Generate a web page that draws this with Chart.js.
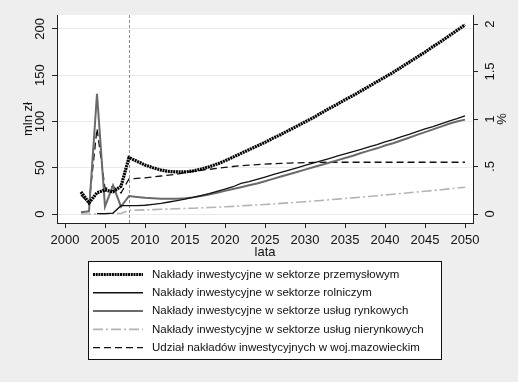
<!DOCTYPE html>
<html>
<head>
<meta charset="utf-8">
<script src="https://cdn.jsdelivr.net/npm/chart.js@4"></script>
<style>
  html, body { margin: 0; padding: 0; background: #eeeeee; }
  #wrap { width: 518px; height: 382px; position: relative; }
</style>
</head>
<body>
<div id="wrap"><canvas id="c" width="518" height="382"></canvas></div>
<script>
// ---- data ----
const years = [2002,2003,2004,2005,2006,2007,2008,2009,2010,2011,2012,2013,2014,2015,2016,2017,2018,2019,2020,2021,2022,2023,2024,2025,2026,2027,2028,2029,2030,2031,2032,2033,2034,2035,2036,2037,2038,2039,2040,2041,2042,2043,2044,2045,2046,2047,2048,2049,2050];

const przemyslowy = [24,12,23,26,24,30,61,57,53,50,47.5,46,45.5,45.5,46.5,48.5,51,54,57.5,61.5,65.5,69.5,73.5,77.5,82,86,90.5,95,99.5,104,109,114,118.5,123.5,128,133,138,143,148,153,158.5,164,169.5,175,181,186.5,192.5,198.5,204.5];

const rolniczy = [null,null,0.5,0.5,1,9,9,9,9.5,10.5,11.5,13,14.5,16,18,20,22,24.5,27,29.5,33,35,37.5,40,42.5,45,47.5,50,52.5,55,57.5,60,62.5,65,67.5,70,72.5,75,78,80.5,83.5,86,89,92,94.5,97.5,100.5,103,106];

const rynkowe = [2,3,130,8,31,8,19.5,18.5,17.5,17,16.5,16.5,16.5,17,18,19.5,21,23,25,27,29,31,33,35.5,38,40.5,43,45.5,48,50.5,53,55.5,58,60.5,63,66,68.5,71,74,76.5,79.5,82.5,85.5,88.5,91.5,94.5,97.5,100,102];

const nierynkowe = [0,0,0,0,0.5,0.5,4,4.2,4.5,4.8,5.1,5.4,5.7,6,6.3,6.6,7,7.4,7.8,8.3,8.8,9.3,9.8,10.3,10.9,11.5,12.1,12.7,13.3,14,14.7,15.4,16.1,16.8,17.5,18.2,19,19.8,20.6,21.4,22.2,23,23.8,24.6,25.4,26.3,27.2,28.1,29];

const udzial = [0.2,0.11,0.9,0.27,0.29,0.22,0.37,0.375,0.38,0.39,0.4,0.41,0.42,0.435,0.45,0.46,0.47,0.48,0.49,0.5,0.508,0.515,0.52,0.525,0.53,0.533,0.536,0.539,0.541,0.543,0.544,0.545,0.545,0.545,0.545,0.545,0.545,0.545,0.545,0.545,0.545,0.545,0.545,0.545,0.545,0.545,0.545,0.545,0.545];

const xTicks = [2000,2005,2010,2015,2020,2025,2030,2035,2040,2045,2050];
const yLeftTicks = [0,50,100,150,200];
const yRightTicks = [0,0.5,1,1.5,2];
const yRightLabels = ['0','.5','1','1.5','2'];
const markerYear = 2008;

const seriesNames = [
  'Nakłady inwestycyjne w sektorze przemysłowym',
  'Nakłady inwestycyjne w sektorze rolniczym',
  'Nakłady inwestycyjne w sektorze usług rynkowych',
  'Nakłady inwestycyjne w sektorze usług nierynkowych',
  'Udział nakładów inwestycyjnych w woj.mazowieckim'
];

const FONT = 'Liberation Sans, Arial, sans-serif';

function pts(arr) { return years.map((y, i) => ({x: y, y: arr[i]})); }

const datasets = [
  {label: seriesNames[0], data: pts(przemyslowy), yAxisID: 'y', borderColor: '#000000', borderWidth: 3.2, borderDash: [2, 0.7], lgW: 3, lgDash: [2, 0.7]},
  {label: seriesNames[1], data: pts(rolniczy), yAxisID: 'y', borderColor: '#111111', borderWidth: 1.3, borderDash: [], lgW: 1.6, lgDash: []},
  {label: seriesNames[2], data: pts(rynkowe), yAxisID: 'y', borderColor: '#6a6a6a', borderWidth: 2, borderDash: [], lgW: 2, lgDash: []},
  {label: seriesNames[3], data: pts(nierynkowe), yAxisID: 'y', borderColor: '#b4b4b4', borderWidth: 1.6, borderDash: [10, 3, 2, 3], lgW: 1.6, lgDash: [10, 3, 2, 3]},
  {label: seriesNames[4], data: pts(udzial), yAxisID: 'y2', borderColor: '#111111', borderWidth: 1.3, borderDash: [7, 4], lgW: 1.3, lgDash: [7, 4]}
].map(d => Object.assign(d, {pointRadius: 0, fill: false, tension: 0, spanGaps: false}));

const bgPlugin = {
  id: 'bg',
  beforeDraw(chart) {
    const {ctx, chartArea: a} = chart;
    ctx.save();
    ctx.fillStyle = '#eeeeee';
    ctx.fillRect(0, 0, chart.width, chart.height);
    ctx.fillStyle = '#ffffff';
    ctx.fillRect(a.left, a.top, a.right - a.left, a.bottom - a.top);
    ctx.restore();
  },
  beforeDatasetsDraw(chart) {
    const {ctx, chartArea: a, scales} = chart;
    const x = Math.round(scales.x.getPixelForValue(markerYear)) + 0.5;
    ctx.save();
    ctx.strokeStyle = '#8c8c8c';
    ctx.lineWidth = 1;
    ctx.setLineDash([3, 2]);
    ctx.beginPath();
    ctx.moveTo(x, a.top);
    ctx.lineTo(x, a.bottom);
    ctx.stroke();
    ctx.restore();
  },
  afterDraw(chart) {
    const {ctx, chartArea: a} = chart;
    ctx.save();
    // right axis title
    ctx.fillStyle = '#111';
    ctx.font = '13px ' + FONT;
    ctx.translate(502, (a.top + a.bottom) / 2);
    ctx.rotate(-Math.PI / 2);
    ctx.textAlign = 'center';
    ctx.textBaseline = 'middle';
    ctx.fillText('%', 0, 0);
    ctx.restore();

    // legend
    const bx = 88.5, by = 261.5, bw = 353, bh = 98;
    ctx.save();
    ctx.fillStyle = '#ffffff';
    ctx.fillRect(bx, by, bw, bh);
    ctx.strokeStyle = '#111';
    ctx.lineWidth = 1;
    ctx.strokeRect(bx, by, bw, bh);
    ctx.font = '11.5px ' + FONT;
    ctx.textBaseline = 'middle';
    ctx.textAlign = 'left';
    chart.data.datasets.forEach((d, i) => {
      const y = 274.5 + i * 18.3;
      ctx.strokeStyle = d.borderColor;
      ctx.lineWidth = d.lgW;
      ctx.setLineDash(d.lgDash);
      ctx.beginPath();
      ctx.moveTo(93, y);
      ctx.lineTo(143, y);
      ctx.stroke();
      ctx.setLineDash([]);
      ctx.fillStyle = '#111';
      ctx.fillText(d.label, 152, y);
    });
    ctx.restore();
  }
};

new Chart(document.getElementById('c'), {
  type: 'line',
  data: {datasets},
  plugins: [bgPlugin],
  options: {
    responsive: false,
    animation: false,
    events: [],
    layout: {padding: {top: 15, bottom: 122, left: 0, right: 0}},
    plugins: {legend: {display: false}, tooltip: {enabled: false}},
    scales: {
      x: {
        type: 'linear', min: 1999, max: 2051,
        afterBuildTicks(s) { s.ticks = xTicks.map(v => ({value: v})); },
        afterFit(s) { s.height = 37; },
        ticks: {color: '#111', font: {family: FONT, size: 13}, padding: 5, maxRotation: 0, minRotation: 0, callback: v => String(v)},
        grid: {drawOnChartArea: false, tickLength: 5, tickColor: '#222', tickWidth: 1},
        border: {display: true, color: '#222', width: 1},
        title: {display: true, text: 'lata', color: '#111', font: {family: FONT, size: 13}, padding: {top: 0, bottom: 0}}
      },
      y: {
        type: 'linear', position: 'left', min: -9.7, max: 215.1,
        afterBuildTicks(s) { s.ticks = yLeftTicks.map(v => ({value: v})); },
        afterFit(s) { s.width = 57; },
        ticks: {color: '#111', font: {family: FONT, size: 13}, padding: 1, minRotation: 90, maxRotation: 90, crossAlign: 'center', callback: v => String(v)},
        grid: {color: '#eaeaea', lineWidth: 1, tickLength: 5, tickColor: '#222', tickWidth: 1},
        border: {display: true, color: '#222', width: 1},
        title: {display: true, text: 'mln zł', color: '#111', font: {family: FONT, size: 13}, padding: {top: 21, bottom: 0}}
      },
      y2: {
        type: 'linear', position: 'right', min: -0.0947, max: 2.095,
        afterBuildTicks(s) { s.ticks = yRightTicks.map(v => ({value: v})); },
        afterFit(s) { s.width = 45; },
        ticks: {color: '#111', font: {family: FONT, size: 13}, padding: 3, minRotation: 90, maxRotation: 90, crossAlign: 'center',
          callback: (v) => yRightLabels[yRightTicks.indexOf(v)]},
        grid: {drawOnChartArea: false, tickLength: 5, tickColor: '#222', tickWidth: 1},
        border: {display: true, color: '#222', width: 1}
      }
    }
  }
});
</script>
</body>
</html>
